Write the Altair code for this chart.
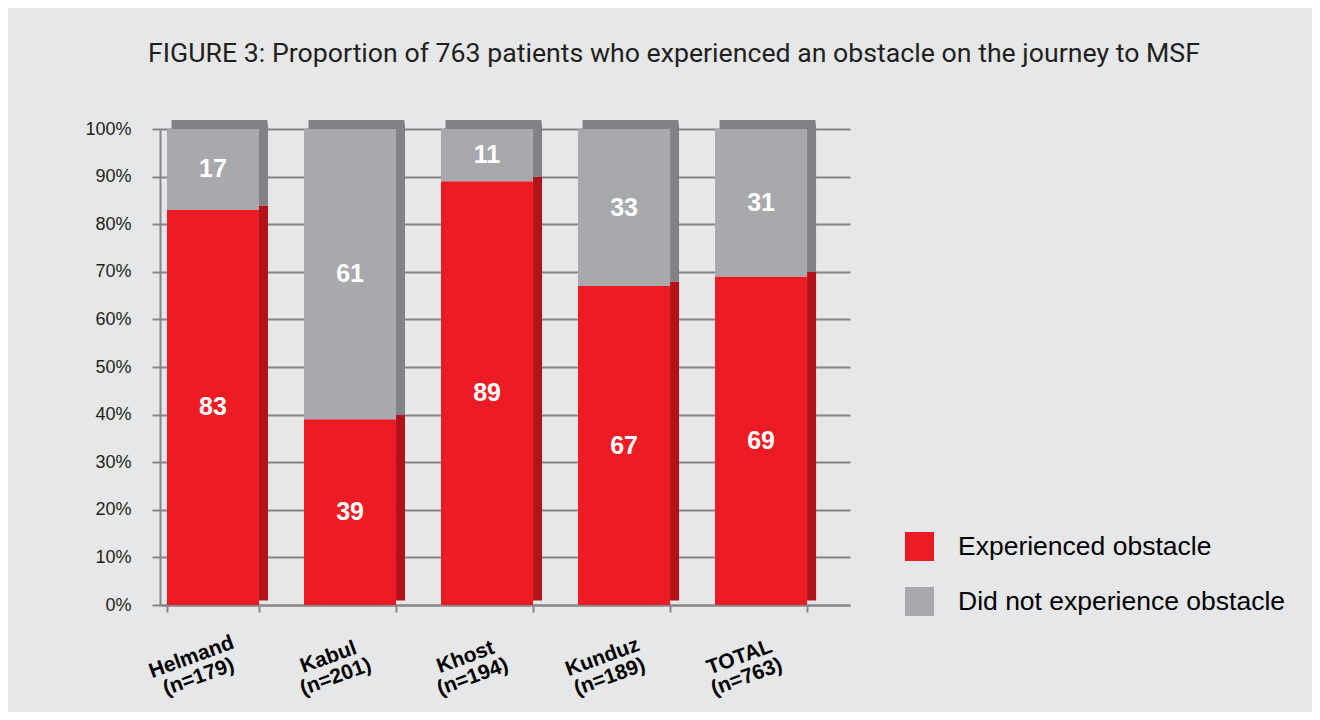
import altair as alt
import pandas as pd

regions = ["Helmand", "Kabul", "Khost", "Kunduz", "TOTAL"]
n_patients = [179, 201, 194, 189, 763]
experienced = [83, 39, 89, 67, 69]
not_experienced = [17, 61, 11, 33, 31]
series = ["Experienced obstacle", "Did not experience obstacle"]
front_colors = ["#ed1c24", "#a7a9ac"]
side_colors = ["#b3121a", "#808285"]
top_color = "#808285"

cat_labels = [f"{r}|(n={n})" for r, n in zip(regions, n_patients)]
rows = []
for lab, e, ne in zip(cat_labels, experienced, not_experienced):
    rows.append(dict(cat=lab, series=series[0], value=e, start=0, end=e, idx=0))
    rows.append(dict(cat=lab, series=series[1], value=ne, start=e, end=e + ne, idx=1))
df = pd.DataFrame(rows)

GRID = "#85868a"
FONT = "Liberation Sans"

x = alt.X(
    "cat:N",
    sort=cat_labels,
    scale=alt.Scale(paddingInner=0.328, paddingOuter=0.182, align=0.14),
    axis=alt.Axis(
        title=None,
        labelExpr="split(datum.label, '|')",
        labelAngle=-20,
        labelAlign="center",
        labelBaseline="middle",
        labelFont=FONT,
        labelFontWeight="bold",
        labelFontSize=21,
        labelLineHeight=21,
        labelColor="#000000",
        labelPadding=45,
        labelOffset=-22,
        tickBand="extent",
        tickSize=7,
        tickWidth=2,
        tickColor=GRID,
        domainColor=GRID,
        domainWidth=2,
        grid=False,
    ),
)
y_scale = alt.Scale(domain=[0, 100])
y_axis = alt.Axis(
    title=None,
    values=list(range(0, 101, 10)),
    labelExpr="datum.value + '%'",
    labelFont=FONT,
    labelFontSize=18,
    labelColor="#231f20",
    labelPadding=21,
    tickSize=8,
    tickWidth=2,
    tickColor=GRID,
    domainColor=GRID,
    domainWidth=2,
    grid=True,
    gridColor=GRID,
    gridWidth=2,
)

base = alt.Chart(df)

front = base.mark_bar(strokeWidth=0).encode(
    x=x,
    y=alt.Y("start:Q", scale=y_scale, axis=y_axis),
    y2="end:Q",
    color=alt.Color(
        "series:N",
        scale=alt.Scale(domain=series, range=front_colors),
        sort=series,
        legend=alt.Legend(
            title=None,
            orient="none",
            legendX=745,
            legendY=403,
            padding=0,
            symbolType="square",
            symbolSize=841,
            symbolStrokeWidth=0,
            symbolOpacity=1,
            labelFont=FONT,
            labelFontSize=26.5,
            labelColor="#000000",
            labelOffset=24,
            labelLimit=500,
            rowPadding=26,
        ),
    ),
)

sides = []
for i in range(2):
    sides.append(
        base.transform_filter(f"datum.idx == {i}")
        .mark_bar(width=9, xOffset=50.5, yOffset=-4.5, y2Offset=-4.5, color=side_colors[i])
        .encode(x=x, y=alt.Y("end:Q", scale=y_scale, axis=y_axis), y2="start:Q")
    )

top = (
    base.transform_filter("datum.idx == 1")
    .mark_bar(width=96, xOffset=6.5, yOffset=-9, color=top_color)
    .encode(x=x, y=alt.Y("end:Q", scale=y_scale, axis=y_axis), y2="end:Q")
)

labels = (
    base.transform_calculate(mid="(datum.start + datum.end) / 2")
    .mark_text(font=FONT, fontSize=25, fontWeight="bold", color="white", baseline="middle", align="center")
    .encode(x=x, y=alt.Y("mid:Q", scale=y_scale, axis=y_axis), text="value:Q")
)

chart = (
    alt.layer(front, *sides, top, labels)
    .properties(
        width=690,
        height=476,
        autosize=alt.AutoSizeParams(type="none"),
        padding={"left": 152, "top": 121, "right": 462, "bottom": 107},
        background="#e6e7e8",
        title=alt.TitleParams(
            "FIGURE 3: Proportion of 763 patients who experienced an obstacle on the journey to MSF",
            font="Roboto",
            fontSize=26.7,
            fontWeight="normal",
            color="#231f20",
            anchor="middle",
            dx=169,
            offset=52,
        ),
    )
    .configure_view(stroke=None)
)

chart.save("out.html", embed_options={"renderer": "svg", "actions": False})
